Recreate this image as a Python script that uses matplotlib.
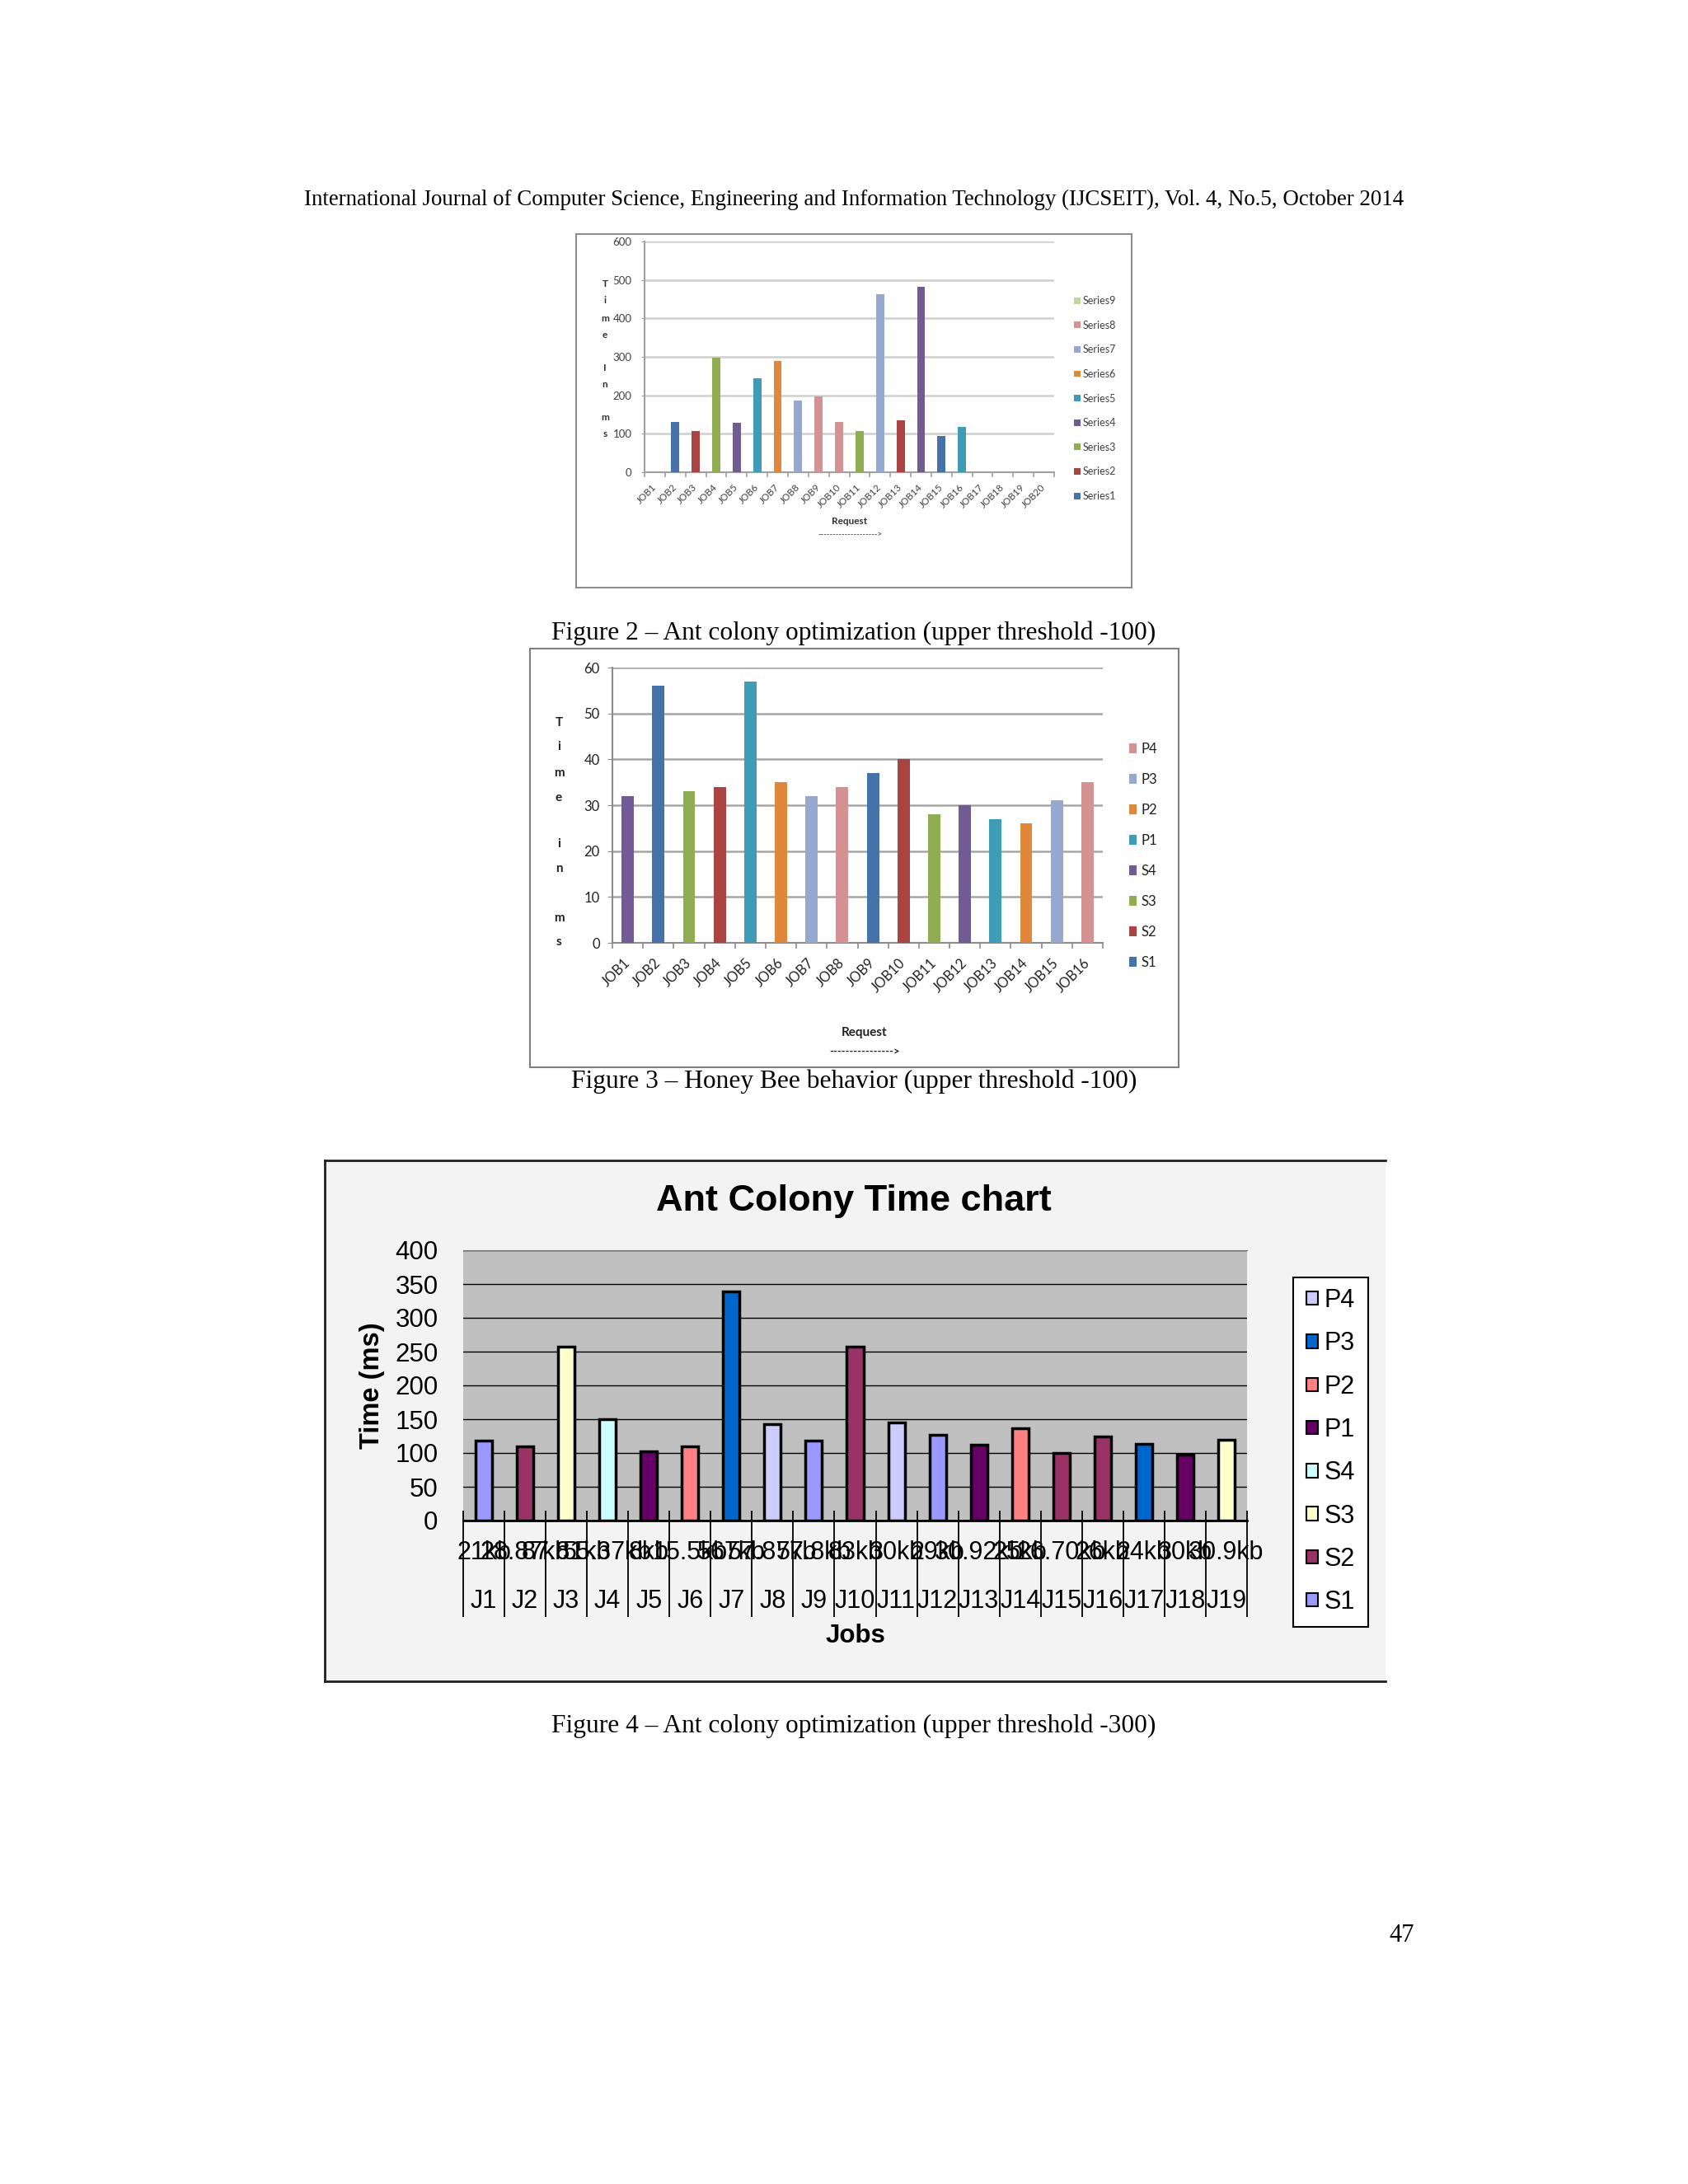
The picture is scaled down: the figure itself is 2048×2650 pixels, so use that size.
import matplotlib
matplotlib.use("Agg")
import matplotlib.pyplot as plt
from matplotlib.patches import Rectangle, Patch
import numpy as np

# ---- data ----
# Figure 2 - ant colony (upper threshold -100)
jobs_f2 = ['JOB1', 'JOB2', 'JOB3', 'JOB4', 'JOB5', 'JOB6', 'JOB7', 'JOB8', 'JOB9', 'JOB10',
           'JOB11', 'JOB12', 'JOB13', 'JOB14', 'JOB15', 'JOB16', 'JOB17', 'JOB18', 'JOB19', 'JOB20']
times_f2 = [0, 130, 108, 297, 129, 244, 290, 186, 198, 130,
            108, 463, 134, 483, 94, 118, 0, 0, 0, 0]
series_f2 = ['', 'Series1', 'Series2', 'Series3', 'Series4', 'Series5', 'Series6', 'Series7', 'Series8', 'Series8',
             'Series3', 'Series7', 'Series2', 'Series4', 'Series1', 'Series5', '', '', '', '']
legend_f2 = ['Series9', 'Series8', 'Series7', 'Series6', 'Series5', 'Series4', 'Series3', 'Series2', 'Series1']

# Figure 3 - honey bee (upper threshold -100)
jobs_f3 = ['JOB1', 'JOB2', 'JOB3', 'JOB4', 'JOB5', 'JOB6', 'JOB7', 'JOB8',
           'JOB9', 'JOB10', 'JOB11', 'JOB12', 'JOB13', 'JOB14', 'JOB15', 'JOB16']
times_f3 = [32, 56, 33, 34, 57, 35, 32, 34, 37, 40, 28, 30, 27, 26, 31, 35]
series_f3 = ['S4', 'S1', 'S3', 'S2', 'P1', 'P2', 'P3', 'P4',
             'S1', 'S2', 'S3', 'S4', 'P1', 'P2', 'P3', 'P4']
legend_f3 = ['P4', 'P3', 'P2', 'P1', 'S4', 'S3', 'S2', 'S1']

# Figure 4 - ant colony (upper threshold -300)
jobs_f4 = ['J1', 'J2', 'J3', 'J4', 'J5', 'J6', 'J7', 'J8', 'J9', 'J10',
           'J11', 'J12', 'J13', 'J14', 'J15', 'J16', 'J17', 'J18', 'J19']
sizes_f4 = ['21kb', '28.87kb', '87.81kb', '55.37kb', '8kb', '15.5kb', '567kb', '57.87kb', '57.8kb', '83kb',
            '30kb', '29kb', '30.92kb', '25kb', '26.70kb', '26kb', '24kb', '30kb', '30.9kb']
times_f4 = [118, 110, 257, 150, 103, 110, 339, 143, 118, 257,
            145, 127, 112, 136, 100, 124, 113, 98, 119]
series_f4 = ['S1', 'S2', 'S3', 'S4', 'P1', 'P2', 'P3', 'P4', 'S1', 'S2',
             'P4', 'S1', 'P1', 'P2', 'S2', 'S2', 'P3', 'P1', 'S3']
legend_f4 = ['P4', 'P3', 'P2', 'P1', 'S4', 'S3', 'S2', 'S1']

# colours
office = {'Series1': '#4672aa', 'Series2': '#aa4442', 'Series3': '#8fae52', 'Series4': '#725a94',
          'Series5': '#3e9cb6', 'Series6': '#e0883a', 'Series7': '#95a9d0', 'Series8': '#d49392',
          'Series9': '#c3d69b'}
bee = {'S1': '#4672aa', 'S2': '#aa4442', 'S3': '#8fae52', 'S4': '#725a94',
       'P1': '#3e9cb6', 'P2': '#e0883a', 'P3': '#95a9d0', 'P4': '#d49392'}
xl = {'S1': '#9999ff', 'S2': '#993366', 'S3': '#ffffcc', 'S4': '#ccffff',
      'P1': '#660066', 'P2': '#ff8080', 'P3': '#0066cc', 'P4': '#ccccff'}

W, H = 2048, 2650
fig = plt.figure(figsize=(W / 100, H / 100), dpi=100)
fig.patch.set_facecolor('white')


def rect(x0, y0, x1, y1):
    return [x0 / W, 1 - y1 / H, (x1 - x0) / W, (y1 - y0) / H]


def fx(x):
    return x / W


def fy(y):
    return 1 - y / H


serif = 'Liberation Serif'
cal = ['Lato', 'DejaVu Sans']
arial = 'Liberation Sans'

# page text
fig.text(fx(1036), fy(242), 'International Journal of Computer Science, Engineering and Information Technology '
         '(IJCSEIT), Vol. 4, No.5, October 2014', ha='center', va='center', family=serif, fontsize=19.4)
fig.text(fx(1036), fy(768), 'Figure 2 \u2013 Ant colony optimization (upper threshold -100)',
         ha='center', va='center', family=serif, fontsize=22.6)
fig.text(fx(1036), fy(1312), 'Figure 3 \u2013 Honey Bee behavior (upper threshold -100)',
         ha='center', va='center', family=serif, fontsize=22.6)
fig.text(fx(1036), fy(2094), 'Figure 4 \u2013 Ant colony optimization (upper threshold -300)',
         ha='center', va='center', family=serif, fontsize=22.6)
fig.text(fx(1701), fy(2348), '47', ha='center', va='center', family=serif, fontsize=22)

# ================= Figure 2 =================
fig.add_artist(Rectangle((fx(699), fy(713)), (1373 - 699) / W, (713 - 284) / H,
                         transform=fig.transFigure, fill=False, ec='#8c8c8c', lw=1.5))
ax1 = fig.add_axes(rect(782, 293, 1279, 573))
x1 = np.arange(len(jobs_f2))
for i, (v, s) in enumerate(zip(times_f2, series_f2)):
    if s:
        ax1.bar(x1[i], v, width=0.4, color=office[s], zorder=3)
ax1.set_xlim(-0.5, len(jobs_f2) - 0.5)
ax1.set_ylim(0, 600)
ax1.set_yticks(range(0, 601, 100))
ax1.yaxis.grid(True, color='#cfcfcf', lw=1.8)
ax1.set_axisbelow(True)
for sp in ['top', 'right']:
    ax1.spines[sp].set_visible(False)
for sp in ['left', 'bottom']:
    ax1.spines[sp].set_color('#a0a0a0')
    ax1.spines[sp].set_linewidth(1.5)
ax1.set_xticks(x1)
ax1.set_xticklabels(jobs_f2, rotation=45, ha='right', va='center', rotation_mode='anchor',
                    family=cal, fontsize=8.5, color='#404040')
ax1.set_xticks(np.arange(-0.5, len(jobs_f2)), minor=True)
ax1.tick_params(axis='x', which='major', length=0, pad=12)
ax1.tick_params(axis='x', which='minor', length=4, color='#a0a0a0', width=1.2)
ax1.tick_params(axis='y', length=3, color='#a0a0a0', pad=8, labelsize=9.5, labelcolor='#404040')
for t in ax1.get_yticklabels():
    t.set_family(cal)
ax1.set_facecolor('white')
h1 = [Patch(facecolor=office[s]) for s in legend_f2]
ax1.legend(h1, legend_f2, loc='upper left', bbox_to_anchor=(fx(1303), fy(359)),
           bbox_transform=fig.transFigure, frameon=False, prop={'family': cal, 'size': 9},
           labelspacing=1.41, handlelength=0.6, handleheight=0.6, handletextpad=0.25,
           borderpad=0, borderaxespad=0, labelcolor='#404040')
letters1 = [('T', 344), ('i', 365), ('m', 386), ('e', 406), ('I', 446), ('n', 466), ('m', 506), ('s', 526)]
for ch, yy in letters1:
    fig.text(fx(734), fy(yy), ch, ha='center', va='center', family=cal, fontsize=8.5,
             fontweight='bold', color='#303030')
fig.text(fx(1031), fy(633), 'Request', ha='center', va='center', family=cal, fontsize=8.5,
         fontweight='bold', color='#303030')
fig.text(fx(1031), fy(649), '-------------------->', ha='center', va='center', family=cal,
         fontsize=7, color='#303030')

# ================= Figure 3 =================
fig.add_artist(Rectangle((fx(643), fy(1295)), (1430 - 643) / W, (1295 - 787) / H,
                         transform=fig.transFigure, fill=False, ec='#7f7f7f', lw=1.5))
ax2 = fig.add_axes(rect(743, 810, 1338, 1144))
x2 = np.arange(len(jobs_f3))
ax2.bar(x2, times_f3, width=0.4, color=[bee[s] for s in series_f3], zorder=3)
ax2.set_xlim(-0.5, len(jobs_f3) - 0.5)
ax2.set_ylim(0, 60)
ax2.set_yticks(range(0, 61, 10))
ax2.yaxis.grid(True, color='#a6a6a6', lw=1.8)
ax2.set_axisbelow(True)
for sp in ['top', 'right']:
    ax2.spines[sp].set_visible(False)
for sp in ['left', 'bottom']:
    ax2.spines[sp].set_color('#8c8c8c')
    ax2.spines[sp].set_linewidth(1.5)
ax2.set_xticks(x2)
ax2.set_xticklabels(jobs_f3, rotation=45, ha='right', va='center', rotation_mode='anchor',
                    family=cal, fontsize=12, color='#202020')
ax2.set_xticks(np.arange(-0.5, len(jobs_f3)), minor=True)
ax2.tick_params(axis='x', which='major', length=0, pad=16)
ax2.tick_params(axis='x', which='minor', length=5, color='#8c8c8c', width=1.2)
ax2.tick_params(axis='y', length=4, color='#8c8c8c', pad=7, labelsize=12, labelcolor='#202020')
for t in ax2.get_yticklabels():
    t.set_family(cal)
h2 = [Patch(facecolor=bee[s]) for s in legend_f3]
ax2.legend(h2, legend_f3, loc='upper left', bbox_to_anchor=(fx(1370), fy(901)),
           bbox_transform=fig.transFigure, frameon=False, prop={'family': cal, 'size': 12},
           labelspacing=1.26, handlelength=0.55, handleheight=0.7, handletextpad=0.3,
           borderpad=0, borderaxespad=0, labelcolor='#202020')
letters2 = [('T', 877), ('i', 906), ('m', 938), ('e', 968), ('i', 1024), ('n', 1054), ('m', 1114), ('s', 1143)]
for ch, yy in letters2:
    fig.text(fx(678), fy(yy), ch, ha='center', va='center', family=cal, fontsize=11,
             fontweight='bold', color='#202020')
fig.text(fx(1049), fy(1253), 'Request', ha='center', va='center', family=cal, fontsize=11,
         fontweight='bold', color='#202020')
fig.text(fx(1049), fy(1276), '---------------->', ha='center', va='center', family=cal,
         fontsize=9.5, fontweight='bold', color='#202020')

# ================= Figure 4 =================
fig.add_artist(Rectangle((fx(394), fy(2040)), (1681 - 394) / W, (2040 - 1408) / H,
                         transform=fig.transFigure, fc='#f3f3f3', ec='none', zorder=0))
for xs, ys in [([394, 394], [1408, 2040]), ([394, 1681], [1408, 1408]), ([394, 1681], [2040, 2040])]:
    fig.add_artist(plt.Line2D([fx(v) for v in xs], [fy(v) for v in ys], color='#202020', lw=2))

ax3 = fig.add_axes(rect(562, 1517, 1513, 1845))
x3 = np.arange(len(jobs_f4))
ax3.bar(x3, times_f4, width=0.4, color=[xl[s] for s in series_f4], edgecolor='black',
        linewidth=2.5, zorder=3)
ax3.set_facecolor('#c0c0c0')
ax3.set_xlim(-0.5, len(jobs_f4) - 0.5)
ax3.set_ylim(0, 400)
ax3.set_yticks(range(0, 401, 50))
ax3.yaxis.grid(True, color='#000000', lw=1)
ax3.set_axisbelow(True)
for sp in ['left', 'right']:
    ax3.spines[sp].set_visible(False)
ax3.spines['top'].set_color('#707070')
ax3.spines['bottom'].set_color('black')
ax3.spines['bottom'].set_linewidth(2)
ax3.set_xticks([])
ax3.tick_params(axis='y', length=0, pad=22, labelsize=22.5)
for t in ax3.get_yticklabels():
    t.set_family(arial)
ax3.vlines(np.arange(-0.5, len(jobs_f4)), -0.357, 0.037, transform=ax3.get_xaxis_transform(),
           color='black', lw=1.3, clip_on=False, zorder=4)
for i in range(len(jobs_f4)):
    ax3.text(x3[i], -0.119, sizes_f4[i], transform=ax3.get_xaxis_transform(), ha='center',
             va='center', family=arial, fontsize=22)
    ax3.text(x3[i], -0.299, jobs_f4[i], transform=ax3.get_xaxis_transform(), ha='center',
             va='center', family=arial, fontsize=22)
ax3.text(0.5, -0.427, 'Jobs', transform=ax3.transAxes, ha='center', va='center', family=arial,
         fontsize=22.5, fontweight='bold')
ax3.set_ylabel('Time (ms)', family=arial, fontsize=23.5, fontweight='bold', labelpad=9)
fig.text(fx(1036), fy(1457), 'Ant Colony Time chart', ha='center', va='center', family=arial,
         fontsize=32.5, fontweight='bold')

fig.add_artist(Rectangle((fx(1569), fy(1974)), (1660 - 1569) / W, (1974 - 1550) / H,
                         transform=fig.transFigure, fc='white', ec='black', lw=1.5))
h3 = [Patch(facecolor=xl[s], edgecolor='black', linewidth=1.5) for s in legend_f4]
leg3 = fig.legend(h3, legend_f4, loc='upper left', bbox_to_anchor=(fx(1585), fy(1563)),
                  frameon=False, prop={'family': arial, 'size': 22},
                  labelspacing=0.73, handlelength=0.45, handleheight=0.45, handletextpad=0.25,
                  borderpad=0, borderaxespad=0)

fig.savefig('out.png', dpi=100, facecolor='white')
